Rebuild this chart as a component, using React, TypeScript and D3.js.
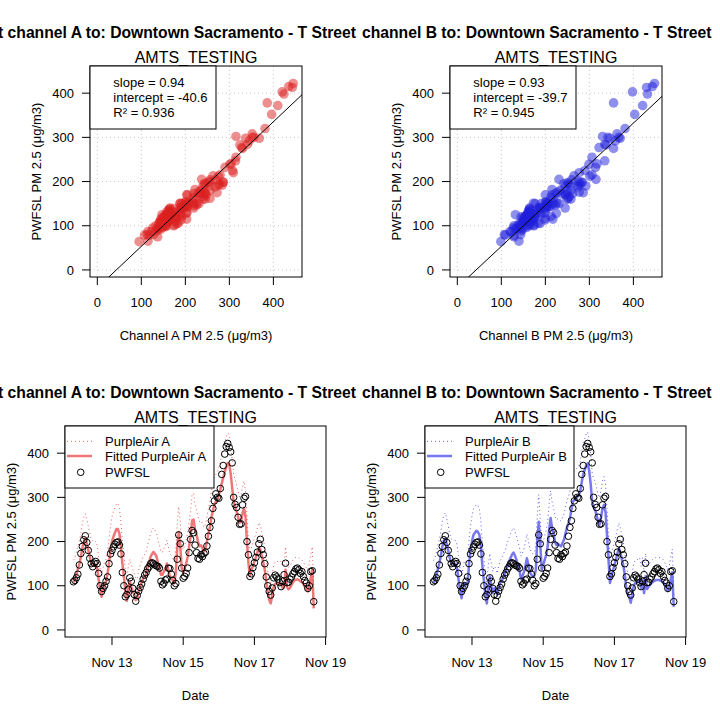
import React from "react";
import * as d3 from "d3";

const FONT = "'Liberation Sans', Arial, Helvetica, sans-serif";

const sensorLabel = "AMTS_TESTING";
const monitorName = "Downtown Sacramento - T Street";
const startTime = new Date(2019, 10, 11, 22, 0, 0);

// hourly PWFSL monitor values (µg/m3)
const pwfsl = [
  109, 112, 118, 126, 147, 173, 189, 204, 213, 198,
  180, 162, 150, 143, 151, 155, 150, 128, 100, 87,
  94, 100, 110, 120, 150, 172, 180, 188, 194, 198,
  199, 192, 172, 130, 100, 75, 80, 92, 118, 110,
  94, 80, 65, 78, 88, 96, 104, 115, 124, 130,
  138, 143, 150, 152, 150, 147, 145, 144, 140, 110,
  102, 106, 113, 115, 140, 139, 126, 112, 100, 105,
  160, 215, 195, 140, 117, 121, 128, 140, 175, 205,
  225, 220, 192, 175, 162, 160, 170, 166, 173, 176,
  190, 212, 232, 247, 275, 292, 308, 300, 298, 320,
  352, 372, 398, 415, 422, 413, 403, 378, 300, 284,
  277, 255, 239, 240, 283, 298, 302, 200, 170, 121,
  127, 141, 152, 164, 176, 195, 205, 182, 170, 150,
  120, 100, 87, 79, 95, 118, 124, 120, 115, 107,
  98, 110, 125, 151, 107, 108, 115, 120, 127, 132,
  138, 140, 136, 128, 132, 121, 112, 106, 94, 100,
  132, 134, 64,
];

// hourly PurpleAir channel A raw values
const purpleA = [
  158, 163, 176, 190, 201, 219, 240, 256, 263, 251,
  235, 219, 205, 201, 198, 201, 192, 165, 140, 123,
  141, 154, 160, 179, 205, 235, 256, 268, 277, 286,
  286, 275, 245, 203, 173, 137, 113, 144, 160, 147,
  137, 128, 115, 118, 135, 147, 158, 167, 171, 177,
  192, 205, 219, 226, 231, 226, 220, 205, 192, 176,
  176, 184, 190, 203, 187, 173, 169, 162, 156, 181,
  240, 279, 245, 192, 181, 192, 203, 219, 245, 269,
  307, 309, 284, 272, 256, 245, 247, 240, 232, 240,
  256, 275, 290, 314, 330, 345, 352, 356, 368, 381,
  396, 410, 424, 435, 445, 443, 420, 386, 352, 341,
  328, 315, 301, 304, 324, 337, 315, 255, 203, 173,
  187, 197, 208, 218, 230, 243, 237, 222, 205, 188,
  160, 133, 115, 107, 126, 147, 154, 156, 154, 152,
  156, 144, 147, 188, 147, 141, 144, 152, 158, 163,
  164, 165, 163, 160, 158, 154, 147, 141, 136, 150,
  169, 188, 95,
];

// hourly PurpleAir channel B raw values
const purpleB = [
  157, 163, 176, 191, 205, 223, 245, 260, 265, 251,
  234, 218, 206, 204, 204, 202, 191, 163, 137, 120,
  142, 157, 155, 152, 204, 236, 258, 274, 279, 284,
  281, 274, 245, 199, 164, 129, 107, 148, 173, 150,
  132, 144, 140, 128, 145, 157, 163, 170, 178, 187,
  199, 209, 218, 226, 231, 223, 213, 199, 187, 167,
  174, 183, 199, 217, 202, 183, 177, 172, 174, 188,
  258, 306, 252, 189, 200, 213, 225, 245, 286, 315,
  290, 277, 256, 249, 252, 249, 246, 254, 262, 277,
  292, 301, 314, 335, 355, 359, 363, 367, 370, 381,
  403, 421, 432, 443, 448, 430, 398, 355, 342, 335,
  322, 306, 299, 317, 338, 347, 330, 275, 215, 157,
  173, 187, 200, 213, 228, 242, 231, 215, 200, 177,
  145, 129, 123, 109, 127, 150, 157, 157, 161, 164,
  144, 164, 132, 173, 142, 148, 152, 157, 160, 162,
  164, 164, 164, 163, 161, 159, 152, 146, 137, 145,
  166, 183, 99,
];

const slopeA = 0.94;
const interceptA = -40.6;
const r2A = 0.936;
const slopeB = 0.93;
const interceptB = -39.7;
const r2B = 0.945;

const pmTicks = [0, 100, 200, 300, 400];
const scatterXDomain = [-16.6, 465];
const pmDomain = [-16, 461.5];
const timeDomain = [new Date(2019, 10, 11, 16, 19), new Date(2019, 10, 19, 0, 16)];
const dateTicks = [
  new Date(2019, 10, 13),
  new Date(2019, 10, 15),
  new Date(2019, 10, 17),
  new Date(2019, 10, 19),
];
const dateTickLabels = ["Nov 13", "Nov 15", "Nov 17", "Nov 19"];

const TICK = 8;

function Titles({ id, ch, cx, titleX }: any) {
  return (
    <g clipPath={`url(#${id})`}>
      <text x={titleX} y={37.5} fontSize={15.7} fontWeight="bold" fontFamily={FONT} fill="#000">
        {`t channel ${ch} to: ${monitorName}`}
      </text>
      <text x={cx} y={63} fontSize={16} textAnchor="middle" fontFamily={FONT} fill="#000">
        {sensorLabel}
      </text>
    </g>
  );
}

function YAxis({ y, L, T, B }: any) {
  return (
    <g>
      {pmTicks.map((t) => (
        <g key={t}>
          <line x1={L - TICK} x2={L} y1={y(t)} y2={y(t)} stroke="#000" />
          <text x={L - 16} y={y(t) + 4.6} textAnchor="end" fontSize={13} fontFamily={FONT}>
            {t}
          </text>
        </g>
      ))}
      <text
        transform={`translate(${L - 49.3},${(T + B) / 2}) rotate(-90)`}
        textAnchor="middle"
        fontSize={13}
        fontFamily={FONT}
      >
        PWFSL PM 2.5 (μg/m3)
      </text>
    </g>
  );
}

function ScatterPanel({ ox, oy, ch, raw, slope, intercept, r2, color, titleX }: any) {
  const L = 90, R = 302, T = 66, B = 277;
  const x = d3.scaleLinear().domain(scatterXDomain).range([L, R]);
  const y = d3.scaleLinear().domain(pmDomain).range([B, T]);
  const clipId = `sc-plot-${ch}`;
  const figId = `sc-fig-${ch}`;
  const lineGen = d3.line<number>().x((d) => x(d)).y((d) => y(slope * d + intercept));
  return (
    <g transform={`translate(${ox},${oy})`}>
      <defs>
        <clipPath id={clipId}>
          <rect x={L} y={T} width={R - L} height={B - T} />
        </clipPath>
        <clipPath id={figId}>
          <rect x={0} y={0} width={360} height={360} />
        </clipPath>
      </defs>
      <Titles id={figId} ch={ch} cx={(L + R) / 2} titleX={titleX} />
      <g clipPath={`url(#${clipId})`}>
        {pmTicks.map((t) => (
          <g key={t}>
            <line x1={x(t)} x2={x(t)} y1={T} y2={B} stroke="#c8c8c8" strokeDasharray="1 3" />
            <line x1={L} x2={R} y1={y(t)} y2={y(t)} stroke="#c8c8c8" strokeDasharray="1 3" />
          </g>
        ))}
        {raw.map((v: number, i: number) => (
          <circle key={i} cx={x(v)} cy={y(pwfsl[i])} r={4.8} fill={color} fillOpacity={0.5} />
        ))}
        <path d={lineGen(scatterXDomain) || ""} stroke="#000" strokeWidth={1} fill="none" />
      </g>
      <rect x={L} y={T} width={R - L} height={B - T} fill="none" stroke="#000" />
      {pmTicks.map((t) => (
        <g key={t}>
          <line x1={x(t)} x2={x(t)} y1={B} y2={B + TICK} stroke="#000" />
          <text x={x(t)} y={B + 30.3} textAnchor="middle" fontSize={13} fontFamily={FONT}>
            {t}
          </text>
        </g>
      ))}
      <text x={(L + R) / 2} y={B + 63} textAnchor="middle" fontSize={13} fontFamily={FONT}>
        {`Channel ${ch} PM 2.5 (μg/m3)`}
      </text>
      <YAxis y={y} L={L} T={T} B={B} />
      <g>
        <rect x={L} y={T} width={126} height={63} fill="#fff" stroke="#000" />
        <text x={L + 23.3} y={T + 21.2} fontSize={13} fontFamily={FONT}>
          {`slope = ${slope.toFixed(2)}`}
        </text>
        <text x={L + 23.3} y={T + 36.2} fontSize={13} fontFamily={FONT}>
          {`intercept = ${intercept.toFixed(1)}`}
        </text>
        <text x={L + 23.3} y={T + 51.2} fontSize={13} fontFamily={FONT}>
          {`R² = ${r2.toFixed(3)}`}
        </text>
      </g>
    </g>
  );
}

function SeriesPanel({ ox, oy, ch, raw, slope, intercept, color, titleX }: any) {
  const L = 65, R = 326, T = 66, B = 277;
  const x = d3.scaleTime().domain(timeDomain).range([L, R]);
  const y = d3.scaleLinear().domain(pmDomain).range([B, T]);
  const times = raw.map((_: number, i: number) => d3.timeHour.offset(startTime, i));
  const fitted = raw.map((v: number) => slope * v + intercept);
  const lineGen = d3
    .line<number>()
    .x((_, i) => x(times[i]))
    .y((d) => y(d));
  const clipId = `ts-plot-${ch}`;
  const figId = `ts-fig-${ch}`;
  return (
    <g transform={`translate(${ox},${oy})`}>
      <defs>
        <clipPath id={clipId}>
          <rect x={L} y={T} width={R - L} height={B - T} />
        </clipPath>
        <clipPath id={figId}>
          <rect x={0} y={0} width={360} height={360} />
        </clipPath>
      </defs>
      <Titles id={figId} ch={ch} cx={(L + R) / 2} titleX={titleX} />
      <g clipPath={`url(#${clipId})`}>
        <path d={lineGen(raw) || ""} fill="none" stroke={color} strokeOpacity={0.7} strokeWidth={1} strokeDasharray="1 3" />
        <path d={lineGen(fitted) || ""} fill="none" stroke={color} strokeOpacity={0.6} strokeWidth={2.5} strokeLinejoin="round" />
        {pwfsl.map((v, i) => (
          <circle key={i} cx={x(times[i])} cy={y(v)} r={3.3} fill="none" stroke="#000" strokeWidth={1} />
        ))}
      </g>
      <rect x={L} y={T} width={R - L} height={B - T} fill="none" stroke="#000" />
      {dateTicks.map((t, i) => (
        <g key={i}>
          <line x1={x(t)} x2={x(t)} y1={B} y2={B + TICK} stroke="#000" />
          <text x={x(t)} y={B + 30.3} textAnchor="middle" fontSize={13} fontFamily={FONT}>
            {dateTickLabels[i]}
          </text>
        </g>
      ))}
      <text x={(L + R) / 2} y={B + 63} textAnchor="middle" fontSize={13} fontFamily={FONT}>
        Date
      </text>
      <YAxis y={y} L={L} T={T} B={B} />
      <g>
        <rect x={L} y={T} width={149} height={62} fill="#fff" stroke="#000" />
        <line x1={L + 2} x2={L + 27} y1={T + 15.3} y2={T + 15.3} stroke={color} strokeOpacity={0.7} strokeDasharray="1 3" />
        <text x={L + 40} y={T + 19.8} fontSize={13} fontFamily={FONT}>
          {`PurpleAir ${ch}`}
        </text>
        <line x1={L + 2} x2={L + 27} y1={T + 30} y2={T + 30} stroke={color} strokeOpacity={0.6} strokeWidth={2.5} />
        <text x={L + 40} y={T + 34.5} fontSize={13} fontFamily={FONT}>
          {`Fitted PurpleAir ${ch}`}
        </text>
        <circle cx={L + 15.7} cy={T + 46.3} r={3.3} fill="none" stroke="#000" />
        <text x={L + 40} y={T + 50.8} fontSize={13} fontFamily={FONT}>
          PWFSL
        </text>
      </g>
    </g>
  );
}

export default function App() {
  return (
    <svg
      width={720}
      height={719}
      style={{ position: "absolute", left: 0, top: 0, background: "#fff", display: "block" }}
    >
      <rect width={720} height={719} fill="#fff" />
      <ScatterPanel ox={0} oy={0} ch="A" raw={purpleA} slope={slopeA} intercept={interceptA} r2={r2A} color="#dc2020" titleX={-2} />
      <ScatterPanel ox={360} oy={0} ch="B" raw={purpleB} slope={slopeB} intercept={interceptB} r2={r2B} color="#2020dc" titleX={-7.6} />
      <SeriesPanel ox={0} oy={360} ch="A" raw={purpleA} slope={slopeA} intercept={interceptA} color="#e41a1c" titleX={-2} />
      <SeriesPanel ox={360} oy={360} ch="B" raw={purpleB} slope={slopeB} intercept={interceptB} color="#1c1ce4" titleX={-7.6} />
    </svg>
  );
}
